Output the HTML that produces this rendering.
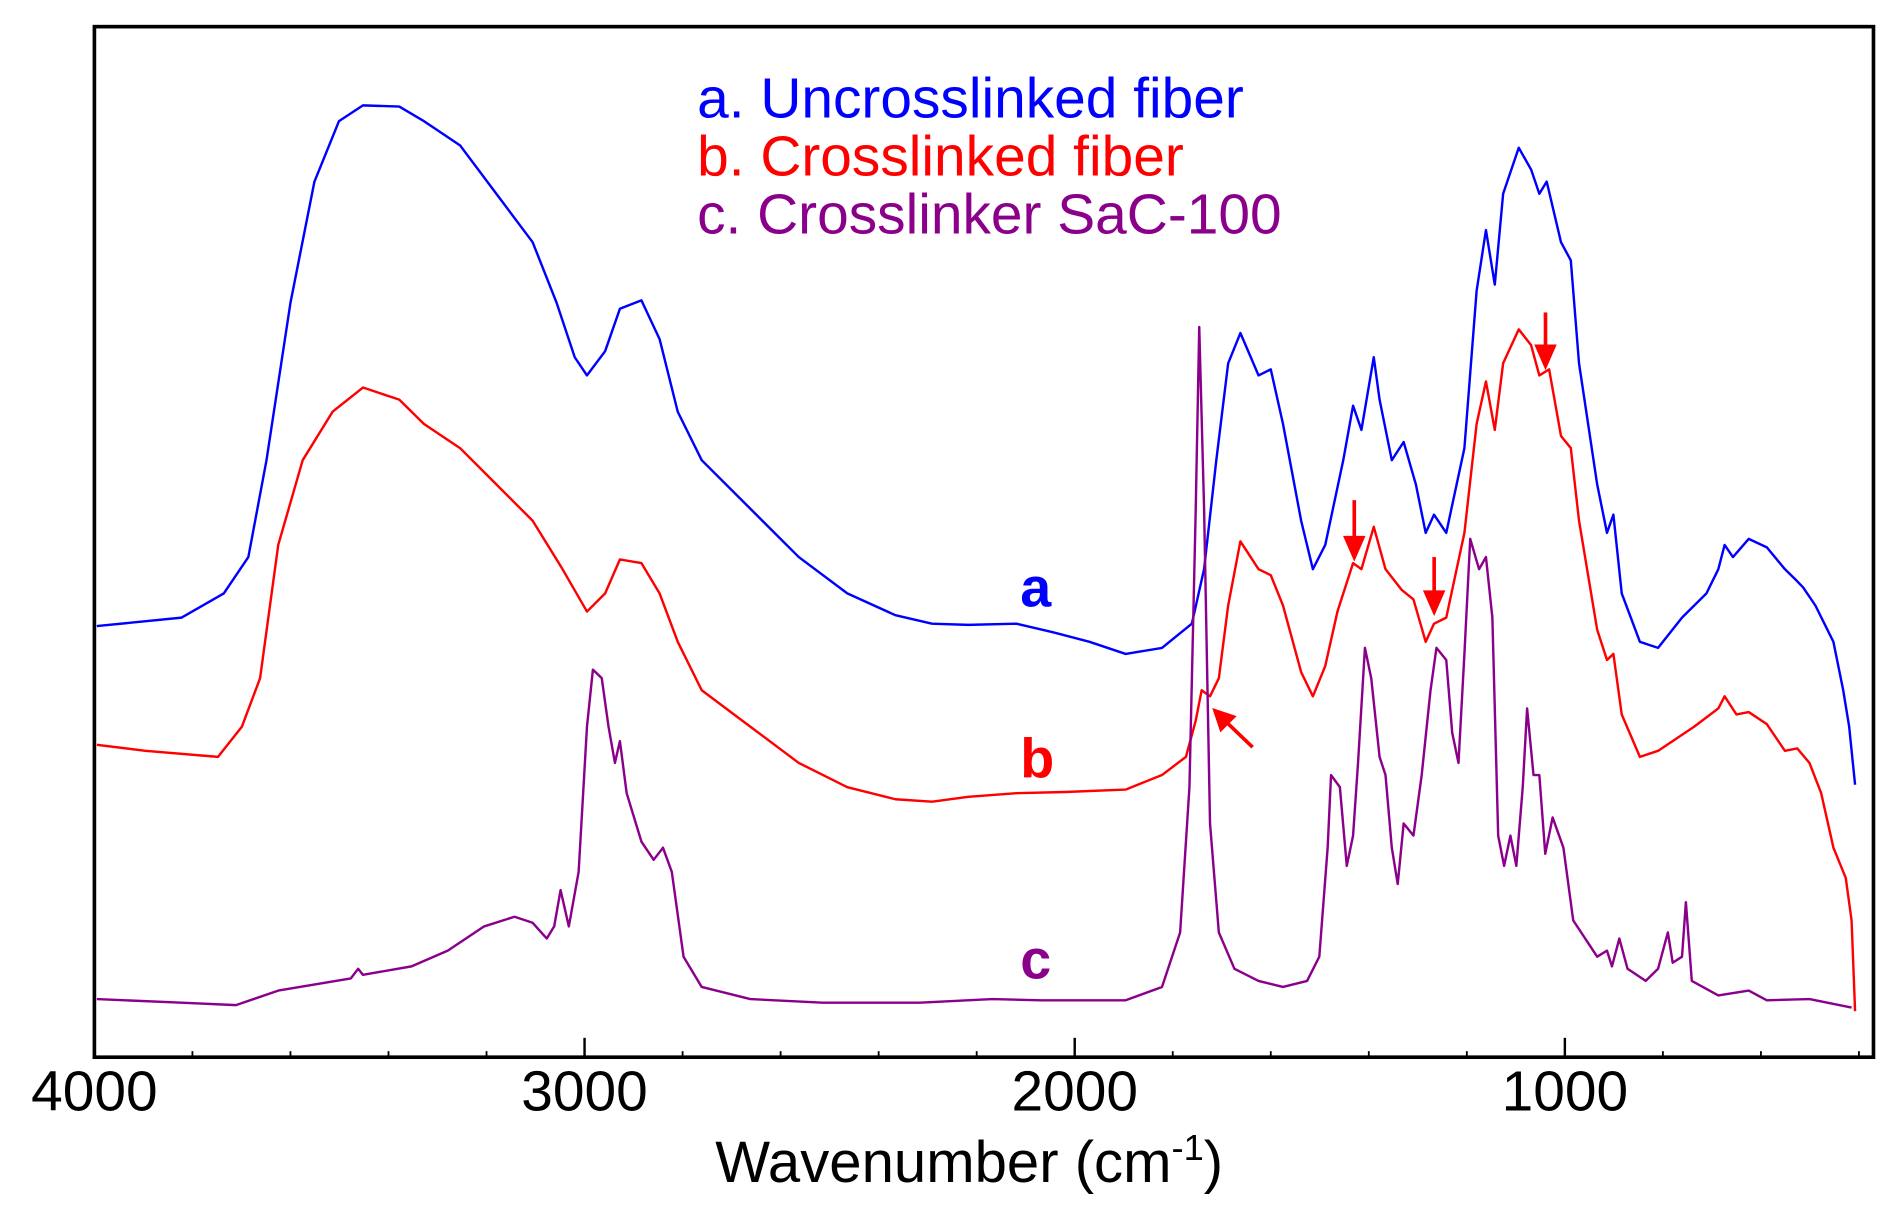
<!DOCTYPE html>
<html><head><meta charset="utf-8"><style>
html,body{margin:0;padding:0;background:#fff;}
svg{display:block;font-family:"Liberation Sans",Arial,sans-serif;}
</style></head><body>
<svg id="chart" width="1888" height="1211" viewBox="0 0 1560 1000" preserveAspectRatio="none" xmlns="http://www.w3.org/2000/svg">
<rect x="78" y="22" width="1470" height="851" fill="none" stroke="#000" stroke-width="3"/>
<g id="series"></g>
<g id="ticks"></g>
<text x="591" y="976" font-size="48">Wavenumber (cm<tspan dy="-18" font-size="30">-1</tspan><tspan dy="18">)</tspan></text>
<g font-size="47">
<text x="576" y="97" fill="#0000ff">a. Uncrosslinked fiber</text>
<text x="576" y="145" fill="#ff0000">b. Crosslinked fiber</text>
<text x="576" y="193" fill="#8b008b">c. Crosslinker SaC-100</text>
</g>
<text x="843" y="501" font-size="46" font-weight="bold" fill="#0000ff">a</text>
<text x="843" y="642" font-size="46" font-weight="bold" fill="#ff0000">b</text>
<text x="843" y="808" font-size="46" font-weight="bold" fill="#8b008b">c</text>
<g stroke="#ff0000" stroke-width="3" fill="#ff0000">
<line x1="1119" y1="413" x2="1119" y2="448"/><polygon points="1112,444 1126,444 1119,460"/>
<line x1="1185" y1="460" x2="1185" y2="493"/><polygon points="1178,489 1192,489 1185,505"/>
<line x1="1277" y1="258" x2="1277" y2="290"/><polygon points="1270,286 1284,286 1277,302"/>
<line x1="1035" y1="617" x2="1012" y2="595"/><polygon points="1004,587 1019,592 1009,602"/>
</g>
</svg>
<script>
const tickValues = [4000, 3000, 2000, 1000];
const tickLabels = ["4000", "3000", "2000", "1000"];
const minorTicks = [3800,3600,3400,3200,2800,2600,2400,2200,1800,1600,1400,1200,800,600,400];
const waveA = [3995,3822,3736,3686,3649,3600,3551,3501,3452,3378,3328,3254,3180,3106,3057,3020,2995,2958,2928,2884,2847,2810,2761,2662,2563,2464,2366,2291,2217,2119,2045,1970,1896,1822,1761,1736,1711,1687,1662,1625,1600,1575,1538,1514,1489,1452,1432,1415,1390,1378,1353,1329,1304,1284,1267,1242,1205,1180,1161,1143,1126,1094,1069,1052,1037,1008,988,971,934,914,901,884,847,810,761,711,687,674,657,625,588,551,526,514,489,452,432,420,408];
const intA = [358,365,385,415,495,625,725,775,788,787,775,755,715,675,625,580,565,585,620,627,595,535,495,455,415,385,367,360,359,360,353,345,335,340,360,405,495,575,600,565,570,525,445,405,425,495,540,520,580,545,495,510,475,435,450,435,505,635,685,640,715,753,735,715,725,675,660,575,475,435,450,385,345,340,365,385,405,425,415,430,423,405,395,390,375,345,305,275,227];
const waveB = [3995,3896,3748,3699,3662,3625,3575,3514,3452,3378,3328,3254,3180,3106,3045,2995,2958,2928,2884,2847,2810,2761,2662,2563,2464,2366,2291,2217,2119,2020,1896,1822,1773,1753,1741,1724,1706,1687,1662,1625,1600,1575,1538,1514,1489,1464,1432,1415,1390,1366,1333,1309,1284,1267,1242,1205,1180,1161,1143,1126,1094,1069,1052,1032,1008,988,971,934,914,901,884,847,810,736,687,674,650,625,588,551,526,501,477,452,427,415,408];
const intB = [260,255,250,275,315,425,495,535,555,545,525,505,475,445,405,370,385,413,410,385,345,305,275,245,225,215,213,217,220,221,223,235,250,280,305,300,315,375,428,405,400,375,320,300,325,370,410,405,440,405,388,380,345,360,365,435,525,560,520,575,603,590,565,570,515,505,445,355,330,335,285,250,255,275,290,300,285,287,277,255,257,245,220,175,150,115,40];
const waveC = [3995,3822,3711,3625,3477,3462,3452,3353,3279,3205,3143,3106,3077,3062,3049,3032,3012,2995,2983,2965,2951,2938,2928,2914,2884,2859,2840,2822,2798,2761,2662,2514,2316,2168,2069,1896,1822,1785,1766,1753,1746,1736,1724,1706,1674,1625,1575,1526,1501,1484,1477,1459,1445,1432,1422,1408,1395,1378,1366,1353,1341,1329,1309,1292,1274,1262,1242,1230,1217,1205,1193,1175,1161,1148,1136,1124,1111,1099,1086,1077,1064,1052,1040,1025,1003,983,934,914,904,889,872,835,810,790,780,761,753,741,687,625,588,501,415];
const intC = [50,47,45,57,67,75,70,77,90,110,118,113,100,110,140,110,155,275,322,315,275,245,263,220,180,165,175,155,85,60,50,47,47,50,49,49,60,105,225,455,605,455,195,105,75,65,60,65,85,175,235,225,160,185,245,340,315,250,235,175,145,195,185,235,305,340,330,270,245,335,430,405,415,365,185,160,185,160,225,290,235,235,170,200,175,115,85,90,77,100,75,65,75,105,80,85,130,65,53,57,49,50,43];

const NS = "http://www.w3.org/2000/svg";
function xScale(w){ return 78 + (4000 - w) * 0.405; }
function yScale(v){ return 875 - v; }
const grp = document.getElementById('series');
function drawSeries(waves, ints, color, name){
  const p = document.createElementNS(NS, 'path');
  let d = '';
  for (let i = 0; i < waves.length; i++) d += (i ? 'L' : 'M') + xScale(waves[i]).toFixed(1) + ',' + yScale(ints[i]).toFixed(1);
  p.setAttribute('d', d);
  p.setAttribute('fill', 'none');
  p.setAttribute('stroke', color);
  p.setAttribute('stroke-width', '2');
  p.setAttribute('stroke-linejoin', 'round');
  
  
  grp.appendChild(p);
}
drawSeries(waveA, intA, '#0000ff', 'series-a-uncrosslinked');
drawSeries(waveB, intB, '#ff0000', 'series-b-crosslinked');
drawSeries(waveC, intC, '#8b008b', 'series-c-crosslinker');
const tg = document.getElementById('ticks');
for (let i = 0; i < minorTicks.length; i++) {
  const x = xScale(minorTicks[i]);
  const l = document.createElementNS(NS, 'line');
  l.setAttribute('x1', x); l.setAttribute('x2', x);
  l.setAttribute('y1', 873); l.setAttribute('y2', 868);
  l.setAttribute('stroke', '#000'); l.setAttribute('stroke-width', '1.5');
  
  
  tg.appendChild(l);
}
for (let i = 0; i < tickValues.length; i++) {
  const x = xScale(tickValues[i]);
  const l = document.createElementNS(NS, 'line');
  l.setAttribute('x1', x); l.setAttribute('x2', x);
  l.setAttribute('y1', 873); l.setAttribute('y2', 857);
  l.setAttribute('stroke', '#000'); l.setAttribute('stroke-width', '2');
  
  
  tg.appendChild(l);
  const t = document.createElementNS(NS, 'text');
  t.setAttribute('x', x); t.setAttribute('y', 917);
  t.setAttribute('font-size', '47'); t.setAttribute('text-anchor', 'middle');
  t.textContent = tickLabels[i];
  
  
  tg.appendChild(t);
}
</script>
</body></html>
